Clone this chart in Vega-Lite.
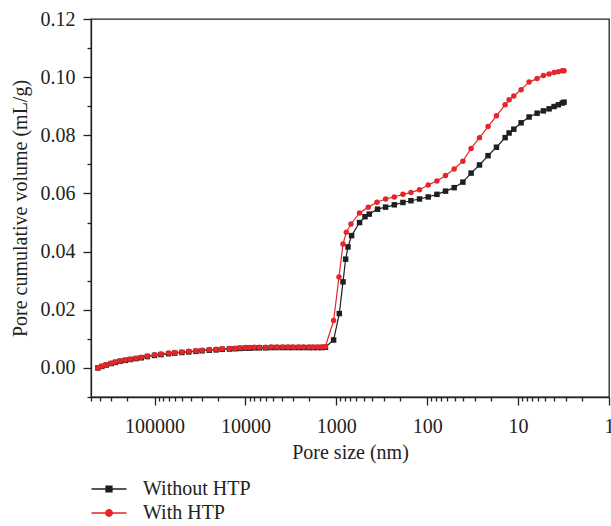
{
  "$schema": "https://vega.github.io/schema/vega-lite/v6.json",
  "width": 518,
  "height": 378,
  "autosize": {"type": "none"},
  "padding": {"left": 91, "top": 19, "right": 2, "bottom": 129},
  "background": "white",
  "config": {
    "font": "Liberation Serif",
    "view": {"stroke": "#222222", "strokeWidth": 1.3},
    "axis": {
      "grid": false,
      "domainColor": "#222222",
      "tickColor": "#222222",
      "labelColor": "#222222",
      "titleColor": "#222222",
      "labelFont": "Liberation Serif",
      "titleFont": "Liberation Serif",
      "labelFontSize": 20,
      "titleFontSize": 20,
      "titleFontWeight": "normal",
      "domainWidth": 1.3,
      "tickWidth": 1.3
    }
  },
  "datasets": {
    "pts": [
      {"g": "Without HTP", "s": 420000, "v": 0.0000},
      {"g": "Without HTP", "s": 380000, "v": 0.0005},
      {"g": "Without HTP", "s": 340000, "v": 0.0010},
      {"g": "Without HTP", "s": 300000, "v": 0.0015},
      {"g": "Without HTP", "s": 270000, "v": 0.0019},
      {"g": "Without HTP", "s": 240000, "v": 0.0023},
      {"g": "Without HTP", "s": 210000, "v": 0.0026},
      {"g": "Without HTP", "s": 185000, "v": 0.0029},
      {"g": "Without HTP", "s": 160000, "v": 0.0032},
      {"g": "Without HTP", "s": 140000, "v": 0.0035},
      {"g": "Without HTP", "s": 120000, "v": 0.0039},
      {"g": "Without HTP", "s": 100000, "v": 0.0043},
      {"g": "Without HTP", "s": 85000, "v": 0.0046},
      {"g": "Without HTP", "s": 70000, "v": 0.0049},
      {"g": "Without HTP", "s": 60000, "v": 0.0051},
      {"g": "Without HTP", "s": 50000, "v": 0.0053},
      {"g": "Without HTP", "s": 42000, "v": 0.0055},
      {"g": "Without HTP", "s": 35000, "v": 0.0057},
      {"g": "Without HTP", "s": 30000, "v": 0.0059},
      {"g": "Without HTP", "s": 25000, "v": 0.0061},
      {"g": "Without HTP", "s": 21000, "v": 0.0062},
      {"g": "Without HTP", "s": 18000, "v": 0.0064},
      {"g": "Without HTP", "s": 15000, "v": 0.0065},
      {"g": "Without HTP", "s": 13000, "v": 0.0066},
      {"g": "Without HTP", "s": 11500, "v": 0.0067},
      {"g": "Without HTP", "s": 10000, "v": 0.0068},
      {"g": "Without HTP", "s": 9000, "v": 0.0068},
      {"g": "Without HTP", "s": 8000, "v": 0.0069},
      {"g": "Without HTP", "s": 7000, "v": 0.0069},
      {"g": "Without HTP", "s": 6000, "v": 0.0069},
      {"g": "Without HTP", "s": 5200, "v": 0.0070},
      {"g": "Without HTP", "s": 4500, "v": 0.0070},
      {"g": "Without HTP", "s": 3900, "v": 0.0070},
      {"g": "Without HTP", "s": 3400, "v": 0.0070},
      {"g": "Without HTP", "s": 3000, "v": 0.0070},
      {"g": "Without HTP", "s": 2600, "v": 0.0070},
      {"g": "Without HTP", "s": 2300, "v": 0.0070},
      {"g": "Without HTP", "s": 2000, "v": 0.0070},
      {"g": "Without HTP", "s": 1800, "v": 0.0070},
      {"g": "Without HTP", "s": 1600, "v": 0.0070},
      {"g": "Without HTP", "s": 1450, "v": 0.0070},
      {"g": "Without HTP", "s": 1320, "v": 0.0071},
      {"g": "Without HTP", "s": 1071, "v": 0.0096},
      {"g": "Without HTP", "s": 927, "v": 0.0187},
      {"g": "Without HTP", "s": 844, "v": 0.0296},
      {"g": "Without HTP", "s": 790, "v": 0.0374},
      {"g": "Without HTP", "s": 744, "v": 0.0416},
      {"g": "Without HTP", "s": 679, "v": 0.0455},
      {"g": "Without HTP", "s": 555, "v": 0.0500},
      {"g": "Without HTP", "s": 484, "v": 0.0520},
      {"g": "Without HTP", "s": 434, "v": 0.0529},
      {"g": "Without HTP", "s": 352, "v": 0.0546},
      {"g": "Without HTP", "s": 287, "v": 0.0553},
      {"g": "Without HTP", "s": 230, "v": 0.0561},
      {"g": "Without HTP", "s": 185, "v": 0.0569},
      {"g": "Without HTP", "s": 151, "v": 0.0575},
      {"g": "Without HTP", "s": 121.5, "v": 0.0581},
      {"g": "Without HTP", "s": 97.5, "v": 0.0588},
      {"g": "Without HTP", "s": 78.2, "v": 0.0597},
      {"g": "Without HTP", "s": 62.9, "v": 0.0608},
      {"g": "Without HTP", "s": 50.5, "v": 0.0620},
      {"g": "Without HTP", "s": 40.5, "v": 0.0639},
      {"g": "Without HTP", "s": 32.9, "v": 0.0670},
      {"g": "Without HTP", "s": 26.6, "v": 0.0698},
      {"g": "Without HTP", "s": 21.4, "v": 0.0730},
      {"g": "Without HTP", "s": 17.3, "v": 0.0759},
      {"g": "Without HTP", "s": 13.9, "v": 0.0792},
      {"g": "Without HTP", "s": 12.56, "v": 0.0808},
      {"g": "Without HTP", "s": 11.15, "v": 0.0821},
      {"g": "Without HTP", "s": 9.27, "v": 0.0843},
      {"g": "Without HTP", "s": 7.57, "v": 0.0863},
      {"g": "Without HTP", "s": 6.18, "v": 0.0876},
      {"g": "Without HTP", "s": 5.27, "v": 0.0884},
      {"g": "Without HTP", "s": 4.56, "v": 0.0891},
      {"g": "Without HTP", "s": 4.02, "v": 0.0899},
      {"g": "Without HTP", "s": 3.61, "v": 0.0905},
      {"g": "Without HTP", "s": 3.26, "v": 0.0911},
      {"g": "Without HTP", "s": 3.12, "v": 0.0914},
      {"g": "With HTP", "s": 420000, "v": 0.0000},
      {"g": "With HTP", "s": 380000, "v": 0.0006},
      {"g": "With HTP", "s": 340000, "v": 0.0011},
      {"g": "With HTP", "s": 300000, "v": 0.0016},
      {"g": "With HTP", "s": 270000, "v": 0.0020},
      {"g": "With HTP", "s": 240000, "v": 0.0024},
      {"g": "With HTP", "s": 210000, "v": 0.0027},
      {"g": "With HTP", "s": 185000, "v": 0.0030},
      {"g": "With HTP", "s": 160000, "v": 0.0033},
      {"g": "With HTP", "s": 140000, "v": 0.0037},
      {"g": "With HTP", "s": 120000, "v": 0.0041},
      {"g": "With HTP", "s": 100000, "v": 0.0045},
      {"g": "With HTP", "s": 85000, "v": 0.0048},
      {"g": "With HTP", "s": 70000, "v": 0.0051},
      {"g": "With HTP", "s": 60000, "v": 0.0053},
      {"g": "With HTP", "s": 50000, "v": 0.0055},
      {"g": "With HTP", "s": 42000, "v": 0.0057},
      {"g": "With HTP", "s": 35000, "v": 0.0059},
      {"g": "With HTP", "s": 30000, "v": 0.0061},
      {"g": "With HTP", "s": 25000, "v": 0.0063},
      {"g": "With HTP", "s": 21000, "v": 0.0064},
      {"g": "With HTP", "s": 18000, "v": 0.0066},
      {"g": "With HTP", "s": 15000, "v": 0.0067},
      {"g": "With HTP", "s": 13000, "v": 0.0068},
      {"g": "With HTP", "s": 11500, "v": 0.0069},
      {"g": "With HTP", "s": 10000, "v": 0.0070},
      {"g": "With HTP", "s": 9000, "v": 0.0070},
      {"g": "With HTP", "s": 8000, "v": 0.0071},
      {"g": "With HTP", "s": 7000, "v": 0.0071},
      {"g": "With HTP", "s": 6000, "v": 0.0071},
      {"g": "With HTP", "s": 5200, "v": 0.0072},
      {"g": "With HTP", "s": 4500, "v": 0.0072},
      {"g": "With HTP", "s": 3900, "v": 0.0072},
      {"g": "With HTP", "s": 3400, "v": 0.0072},
      {"g": "With HTP", "s": 3000, "v": 0.0072},
      {"g": "With HTP", "s": 2600, "v": 0.0072},
      {"g": "With HTP", "s": 2300, "v": 0.0072},
      {"g": "With HTP", "s": 2000, "v": 0.0072},
      {"g": "With HTP", "s": 1800, "v": 0.0072},
      {"g": "With HTP", "s": 1600, "v": 0.0072},
      {"g": "With HTP", "s": 1450, "v": 0.0072},
      {"g": "With HTP", "s": 1320, "v": 0.0073},
      {"g": "With HTP", "s": 1071, "v": 0.0163},
      {"g": "With HTP", "s": 934, "v": 0.0313},
      {"g": "With HTP", "s": 844, "v": 0.0426},
      {"g": "With HTP", "s": 776, "v": 0.0467},
      {"g": "With HTP", "s": 690, "v": 0.0495},
      {"g": "With HTP", "s": 555, "v": 0.0533},
      {"g": "With HTP", "s": 445, "v": 0.0553},
      {"g": "With HTP", "s": 357, "v": 0.0570},
      {"g": "With HTP", "s": 287, "v": 0.0581},
      {"g": "With HTP", "s": 230, "v": 0.0588},
      {"g": "With HTP", "s": 185, "v": 0.0597},
      {"g": "With HTP", "s": 151, "v": 0.0603},
      {"g": "With HTP", "s": 121.5, "v": 0.0613},
      {"g": "With HTP", "s": 97.5, "v": 0.0629},
      {"g": "With HTP", "s": 78.2, "v": 0.0643},
      {"g": "With HTP", "s": 62.9, "v": 0.0662},
      {"g": "With HTP", "s": 50.5, "v": 0.0684},
      {"g": "With HTP", "s": 40.5, "v": 0.0711},
      {"g": "With HTP", "s": 32.9, "v": 0.0755},
      {"g": "With HTP", "s": 26.6, "v": 0.0792},
      {"g": "With HTP", "s": 21.4, "v": 0.0830},
      {"g": "With HTP", "s": 17.3, "v": 0.0867},
      {"g": "With HTP", "s": 13.9, "v": 0.0905},
      {"g": "With HTP", "s": 12.56, "v": 0.0922},
      {"g": "With HTP", "s": 11.15, "v": 0.0935},
      {"g": "With HTP", "s": 9.27, "v": 0.0957},
      {"g": "With HTP", "s": 7.57, "v": 0.0983},
      {"g": "With HTP", "s": 6.18, "v": 0.0995},
      {"g": "With HTP", "s": 5.27, "v": 0.1006},
      {"g": "With HTP", "s": 4.56, "v": 0.1011},
      {"g": "With HTP", "s": 4.02, "v": 0.1016},
      {"g": "With HTP", "s": 3.61, "v": 0.1019},
      {"g": "With HTP", "s": 3.26, "v": 0.1022},
      {"g": "With HTP", "s": 3.12, "v": 0.1022}
    ]
  },
  "data": {"name": "pts"},
  "encoding": {
    "x": {
      "field": "s",
      "type": "quantitative",
      "scale": {"type": "log", "domain": [1, 500000], "reverse": true, "nice": false},
      "axis": {
        "title": "Pore size (nm)",
        "values": [1,2,3,4,5,6,7,8,9,10,20,30,40,50,60,70,80,90,100,200,300,400,500,600,700,800,900,1000,2000,3000,4000,5000,6000,7000,8000,9000,10000,20000,30000,40000,50000,60000,70000,80000,90000,100000,200000,300000,400000,500000],
        "labelExpr": "abs(log(datum.value)/LN10 - round(log(datum.value)/LN10)) < 0.001 ? format(datum.value, 'd') : ''",
        "tickSize": {"condition": {"test": "abs(log(datum.value)/LN10 - round(log(datum.value)/LN10)) < 0.001", "value": 8}, "value": 4},
        "labelOverlap": false,
        "labelFlush": false,
        "labelBound": false,
        "labelPadding": 11,
        "titlePadding": 6
      }
    },
    "y": {
      "field": "v",
      "type": "quantitative",
      "scale": {"domain": [-0.01, 0.12], "nice": false, "zero": false},
      "axis": {
        "title": "Pore cumulative volume (mL/g)",
        "values": [-0.01,0,0.01,0.02,0.03,0.04,0.05,0.06,0.07,0.08,0.09,0.1,0.11,0.12],
        "labelExpr": "datum.value >= 0 && abs(round(datum.value*100)) % 2 == 0 ? format(datum.value, '.2f') : ''",
        "tickSize": {"condition": {"test": "datum.value >= 0 && abs(round(datum.value*100)) % 2 == 0", "value": 8}, "value": 4},
        "labelOverlap": false,
        "labelFlush": false,
        "labelPadding": 8,
        "titlePadding": 10
      }
    }
  },
  "layer": [
    {
      "mark": {"type": "line", "strokeWidth": 1.2},
      "encoding": {
        "color": {
          "field": "g",
          "type": "nominal",
          "scale": {"domain": ["Without HTP", "With HTP"], "range": ["#1f1f1f", "#e52528"]},
          "legend": {
            "orient": "none",
            "legendX": 8,
            "legendY": 460,
            "title": null,
            "padding": 0,
            "symbolType": "M-2,0H2",
            "symbolSize": 306,
            "symbolStrokeWidth": 1.3,
            "labelFont": "Liberation Serif",
            "labelFontSize": 20,
            "labelColor": "#222222",
            "labelOffset": 24,
            "rowPadding": 4,
            "encode": {
              "symbols": {
                "update": {
                  "shape": {"signal": "datum.value === 'Without HTP' ? 'M-2,0H2M-0.34,-0.34H0.34V0.34H-0.34Z' : 'M-2,0H2M0.38,0A0.38,0.38 0 1,1 -0.38,0A0.38,0.38 0 1,1 0.38,0Z'"},
                  "fill": {"signal": "datum.value === 'Without HTP' ? '#1f1f1f' : '#e52528'"},
                  "stroke": {"signal": "datum.value === 'Without HTP' ? '#1f1f1f' : '#e52528'"},
                  "strokeWidth": {"value": 1.3},
                  "opacity": {"value": 1}
                }
              }
            }
          }
        }
      }
    },
    {
      "transform": [{"filter": "datum.g === 'Without HTP'"}],
      "mark": {"type": "point", "filled": true, "opacity": 1, "size": 30, "shape": "square", "color": "#1f1f1f"}
    },
    {
      "transform": [{"filter": "datum.g === 'With HTP'"}],
      "mark": {"type": "point", "filled": true, "opacity": 1, "size": 30, "shape": "circle", "color": "#e52528"}
    }
  ]
}
